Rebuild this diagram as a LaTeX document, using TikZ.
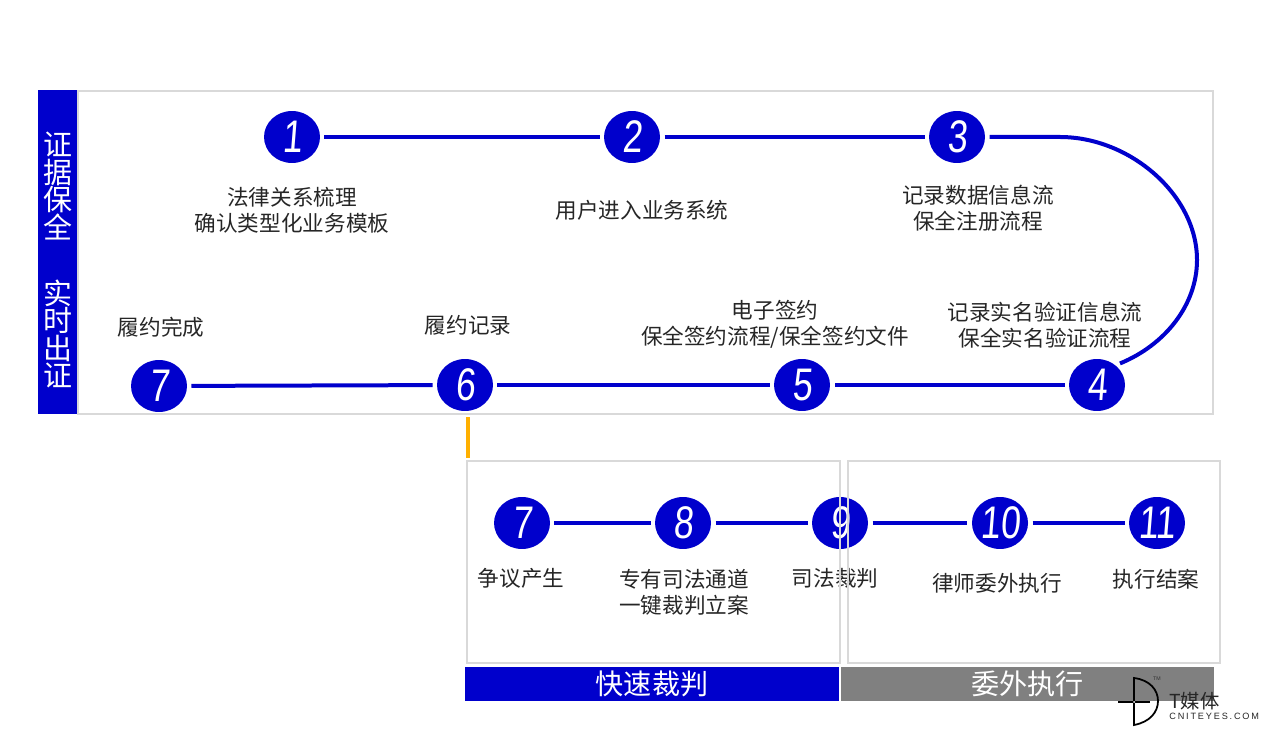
\documentclass[tikz,border=0pt]{standalone}
\usepackage{fontspec}
\usepackage{tikz}
\usetikzlibrary{positioning}
\usetikzlibrary{shapes.geometric}
\setmainfont{Noto Sans CJK SC}
\newfontfamily\digitfont[FakeStretch=0.78,FakeSlant=0.08]{Liberation Sans}
\newfontfamily\logofont{Liberation Sans}
\definecolor{stepblue}{HTML}{0000CC}
\definecolor{framegray}{HTML}{D9D9D9}
\definecolor{bargray}{HTML}{808080}
\definecolor{tapgold}{HTML}{FFB000}
\tikzset{
  stepdot/.style={ellipse,fill=stepblue,text=white,inner sep=0pt,minimum width=1.12cm,minimum height=1.04cm,outer sep=.09cm,font=\digitfont\fontsize{26}{26}\selectfont},
  stepline/.style={draw=stepblue,line width=.08cm},
  steptext/.style={align=center,text=black!85,font=\fontsize{12.3}{14.8}\selectfont},
  framebox/.style={draw=framegray,line width=.04cm},
  sidetext/.style={align=center,text=white,font=\fontsize{16.5}{15.6}\selectfont},
  barbox/.style={text=white,inner sep=0pt,minimum height=.68cm,font=\fontsize{16}{16}\selectfont},
}
\begin{document}
\begin{tikzpicture}[x=.02cm,y=-.02cm]
 \useasboundingbox (0,0) rectangle (1268,736);
 % upper track
 \node[fill=stepblue,inner sep=0pt,minimum width=.8cm,minimum height=6.48cm] (sidebar) at (58,252) {};
 \node[sidetext] (keep) at (58,186) {证\\据\\保\\全};
 \node[sidetext] (proof) at (58,334) {实\\时\\出\\证};
 \node[framebox,inner sep=0pt,minimum width=22.7cm,minimum height=6.46cm] (main) at (645.5,252.5) {};
 \foreach \name/\x/\y/\num in {a1/292/137/1,a2/632/137/2,a3/957/137/3,a4/1097/385/4,a5/802/385/5,a6/465/385/6,a7/159/386/7,
   b7/522/523/7,b8/683/523/8,b9/840/523/9,b10/1000/523/10,b11/1157/523/11} {
   \node[stepdot] (\name) at (\x,\y) {\num};
 }
 \draw[stepline] (a1) -- (a2);
 \draw[stepline] (a2) -- (a3);
 \draw[stepline] (a3.east) -- (1060,137) .. controls (1130,137) and (1197,195) .. (1197,260)
       .. controls (1197,305) and (1165,345) .. (a4.north east);
 \draw[stepline] (a4) -- (a5);
 \draw[stepline] (a5) -- (a6);
 \draw[stepline] (a6) -- (a7);
 \draw[stepline] (b7) -- (b8);
 \draw[stepline] (b8) -- (b9);
 \draw[stepline] (b9) -- (b10);
 \draw[stepline] (b10) -- (b11);
 % labels
 \node[steptext] (t1) at (292,210) {法律关系梳理\\确认类型化业务模板};
 \node[steptext] (t2) at (642,210) {用户进入业务系统};
 \node[steptext] (t3) at (978,208) {记录数据信息流\\保全注册流程};
 \node[steptext] (t4) at (1045,325) {记录实名验证信息流\\保全实名验证流程};
 \node[steptext] (t5) at (775,324) {电子签约\\保全签约流程/保全签约文件};
 \node[steptext] (t6) at (468,325) {履约记录};
 \node[steptext] (t7) at (161,327) {履约完成};
 \node[steptext] (u7) at (521,578) {争议产生};
 \node[steptext] (u8) at (684,592) {专有司法通道\\一键裁判立案};
 \node[steptext] (u9) at (835,578) {司法裁判};
 \node[steptext] (u10) at (997,583) {律师委外执行};
 \node[steptext] (u11) at (1156,579) {执行结案};
 % lower boxes
 \node[framebox,inner sep=0pt,minimum width=7.46cm,minimum height=4.04cm] (fastbox) at (653.5,562) {};
 \node[framebox,inner sep=0pt,minimum width=7.44cm,minimum height=4.04cm] (execbox) at (1034,562) {};
 \coordinate (tap) at (467.5,460);
 \draw[tapgold,line width=.08cm,shorten >=.05cm,shorten <=.05cm] (tap |- main.south) -- (tap);
 \node[barbox,fill=stepblue,minimum width=7.48cm] (fastbar) at (652,684) {\raisebox{.06cm}{快速裁判}};
 \node[barbox,fill=bargray,minimum width=7.46cm] (execbar) at (1027.5,684) {\raisebox{.06cm}{委外执行}};
 % logo
 \draw[black,line width=.035cm] (1134,678) .. controls (1150,680) and (1158,690) .. (1158,701)
       .. controls (1158,712) and (1150,722) .. (1134,725) -- cycle;
 \draw[black,line width=.035cm] (1118,702) -- (1150,702);
 \fill[white] (1134,702) circle (.02cm);
 \node[inner sep=0pt,text=black!80,font=\logofont\fontsize{3}{3}\selectfont] (tm) at (1157,679) {TM};
 \node[inner sep=0pt,anchor=west,text=black!85,font=\fontsize{11}{11}\selectfont] (brand) at (1169,701) {T媒体};
 \node[inner sep=0pt,anchor=west,text=black!85,font=\logofont\fontsize{5.2}{6}\selectfont] (site) at (1169,716) {\addfontfeature{LetterSpace=20}CNITEYES.COM};
\end{tikzpicture}
\end{document}
